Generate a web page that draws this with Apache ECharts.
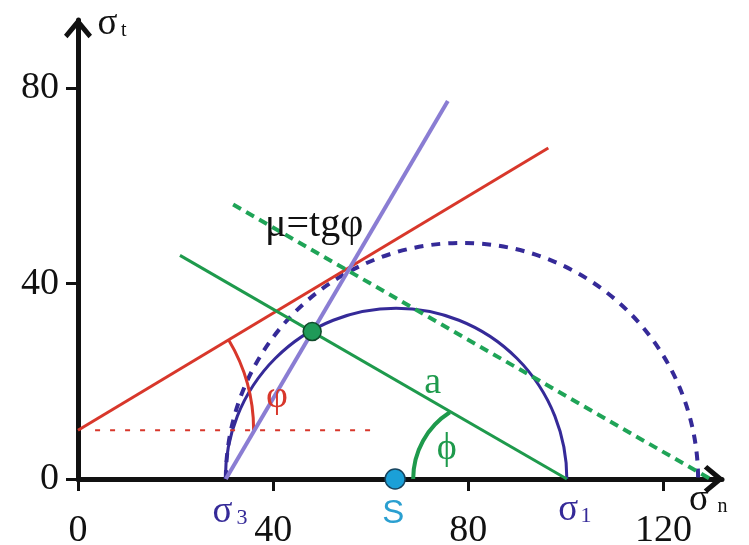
<!DOCTYPE html>
<html>
<head>
<meta charset="utf-8">
<script src="https://cdn.jsdelivr.net/npm/echarts@6/dist/echarts.min.js"></script>
<style>
  html, body { margin: 0; padding: 0; background: #fff; }
  #chart { width: 749px; height: 545px; }
</style>
</head>
<body>
<div id="chart"></div>
<script>
// tick values on the two axes
const xTicks = [0, 40, 80, 120];
const yTicks = [0, 40, 80];

// straight lines, [start, end] in (σn, σt)
const redLine = [[0, 10], [96.4, 67.8]];
const redDotted = [[3.5, 10], [60, 10]];
const purpleLine = [[30.3, 0], [75.8, 77.4]];
const greenLine = [[20.9, 45.8], [100.2, 0]];
const greenDotted = [[31.8, 56.2], [129.6, 0]];

// arcs: [centre σn, centre σt, radius, from deg, to deg]
const mohrCircle = [65.2, 0, 35, 0, 180];
const dashedCircle = [78.7, 0, 48.4, 0, 180];
const redAngleArc = [0, 10, 36, 0, 31];
const greenAngleArc = [84.9, 0, 16.2, 122.4, 180];

// marked points
const tangentPoint = [[48, 30.2]];
const centerPoint = [[65, 0]];

const SERIF = '"Liberation Serif", "Times New Roman", serif';
const INK = '#111';
const BLUE = '#352a98';
const ARROW = 'path://M14,0 L28,17 L24.5,20.5 L14,8 L3.5,20.5 L0,17 Z';

function lineSeries(points, color, width, dash) {
  return {
    type: 'line',
    data: points,
    symbol: 'none',
    silent: true,
    clip: false,
    lineStyle: { color: color, width: width, type: dash || 'solid', cap: 'butt' },
  };
}

function arcSeries(arc, color, width, dash) {
  return {
    type: 'custom',
    data: [arc],
    silent: true,
    clip: false,
    renderItem(params, api) {
      const c = api.coord([api.value(0), api.value(1)]);
      const r = api.size([api.value(2), 0])[0];
      return {
        type: 'arc',
        shape: {
          cx: c[0],
          cy: c[1],
          r: r,
          startAngle: (-api.value(4) * Math.PI) / 180,
          endAngle: (-api.value(3) * Math.PI) / 180,
          clockwise: true,
        },
        style: { fill: 'none', stroke: color, lineWidth: width, lineDash: dash || null },
      };
    },
  };
}

// text annotations placed in data coordinates
function note(x, y, text, color, size, family) {
  return {
    value: [x, y],
    label: {
      show: true,
      position: 'inside',
      formatter: text,
      color: color,
      fontSize: size,
      fontFamily: family || SERIF,
    },
  };
}

const notes = [
  note(6.05, 93.2, 'σ', INK, 37),
  note(9.4, 91.9, 't', INK, 20),
  note(127.3, -4.4, 'σ', INK, 37),
  note(132.1, -5.6, 'n', INK, 20),
  note(29.6, -6.9, 'σ', BLUE, 37),
  note(33.6, -8.0, '3', BLUE, 22),
  note(100.5, -6.5, 'σ', BLUE, 37),
  note(104.1, -7.6, '1', BLUE, 22),
  note(64.6, -7.2, 'S', '#2a9fd0', 33, '"Liberation Sans", Arial, sans-serif'),
  note(48.4, 52.0, 'μ=tgφ', INK, 40),
  note(72.7, 19.6, 'a', '#1e9a4c', 38),
  note(40.8, 16.8, 'φ', '#d8372b', 38),
  note(75.6, 6.1, 'ϕ', '#1e9a4c', 38),
];

const axisCommon = {
  type: 'value',
  splitLine: { show: false },
  axisLine: {
    onZero: false,
    lineStyle: { color: INK, width: 5 },
    symbol: ['none', ARROW],
    symbolSize: [28, 20.5],
    symbolOffset: [0, -8],
  },
  axisTick: { show: true, inside: false, length: 12, lineStyle: { color: INK, width: 3 } },
};

const chart = echarts.init(document.getElementById('chart'));
chart.setOption({
  animation: false,
  backgroundColor: '#fff',
  grid: { left: 78, right: 27, top: 20, bottom: 66, containLabel: false, outerBoundsMode: 'none' },
  xAxis: Object.assign({}, axisCommon, {
    min: 0,
    max: 132,
    axisTick: Object.assign({}, axisCommon.axisTick, { customValues: xTicks }),
    axisLabel: { customValues: xTicks, fontSize: 38, fontFamily: SERIF, color: INK, margin: 33 },
  }),
  yAxis: Object.assign({}, axisCommon, {
    min: 0,
    max: 94,
    axisTick: Object.assign({}, axisCommon.axisTick, { customValues: yTicks }),
    axisLabel: { customValues: yTicks, fontSize: 38, fontFamily: SERIF, color: INK, margin: 19 },
  }),
  series: [
    lineSeries(redDotted, '#d8372b', 2, [5, 10]),
    lineSeries(redLine, '#d8372b', 3),
    arcSeries(dashedCircle, BLUE, 4, [9, 8]),
    arcSeries(mohrCircle, BLUE, 3),
    lineSeries(greenDotted, '#1fa457', 4, [9, 6]),
    lineSeries(greenLine, '#1e9a4c', 3),
    lineSeries(purpleLine, '#8a7dd3', 4),
    arcSeries(redAngleArc, '#d8372b', 3),
    arcSeries(greenAngleArc, '#1e9a4c', 4),
    {
      type: 'scatter',
      data: tangentPoint,
      symbolSize: 18,
      z: 5,
      itemStyle: { color: '#1f9a58', borderColor: '#0f4a2a', borderWidth: 1.5, opacity: 1 },
    },
    {
      type: 'scatter',
      data: centerPoint,
      symbolSize: 20,
      z: 5,
      itemStyle: { color: '#1ba0d8', borderColor: '#17445f', borderWidth: 1.5, opacity: 1 },
    },
    {
      type: 'scatter',
      data: notes,
      symbolSize: 0,
      clip: false,
      silent: true,
      z: 6,
      itemStyle: { opacity: 1 },
    },
  ],
});
</script>
</body>
</html>
